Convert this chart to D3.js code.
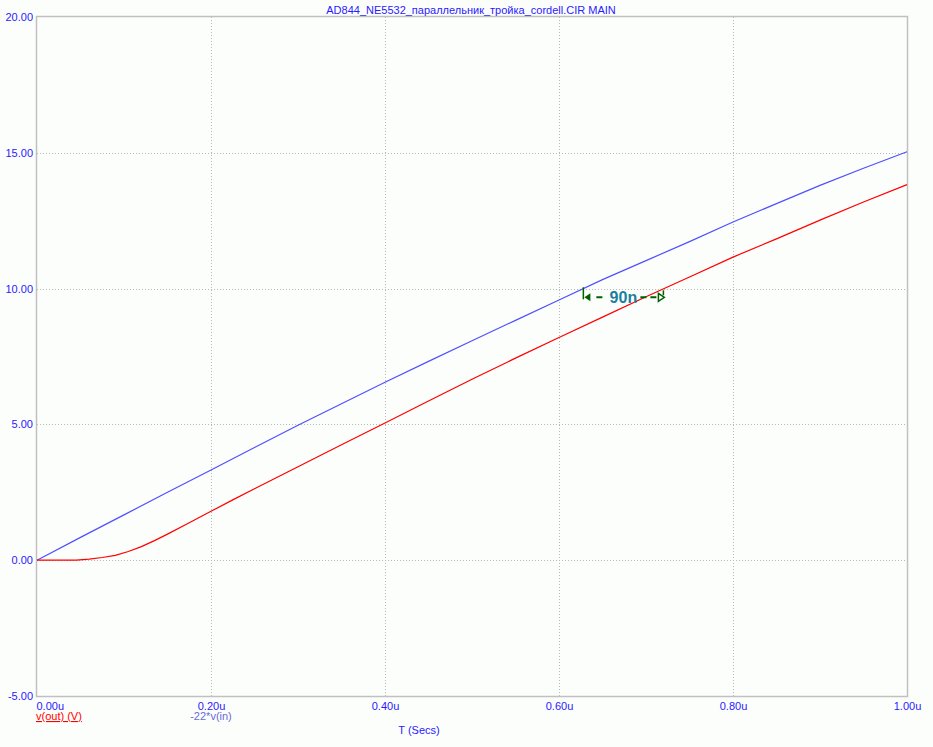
<!DOCTYPE html>
<html><head><meta charset="utf-8">
<script src="https://cdn.jsdelivr.net/npm/d3@7"></script>
<style>
html,body{margin:0;padding:0;background:#fcfefc;}
svg{display:block;font-family:"Liberation Sans",Arial,sans-serif;}
</style></head>
<body>
<script>
const title = "AD844_NE5532_параллельник_тройка_cordell.CIR MAIN";
const xTicks = [0, 0.2, 0.4, 0.6, 0.8, 1.0];
const xTickLabels = ["0.00u", "0.20u", "0.40u", "0.60u", "0.80u", "1.00u"];
const yTicks = [-5, 0, 5, 10, 15, 20];
const yTickLabels = ["-5.00", "0.00", "5.00", "10.00", "15.00", "20.00"];
const xLabel = "T (Secs)";
const seriesNames = ["v(out) (V)", "-22*v(in)"];
// time in microseconds
const tIn = [0, 0.05, 0.1, 0.15, 0.2, 0.25, 0.3, 0.35, 0.4, 0.45, 0.5, 0.55, 0.6, 0.65, 0.7, 0.75, 0.8, 0.85, 0.9, 0.95, 1.0];
const vIn = [0, 0.84, 1.67, 2.5, 3.32, 4.15, 4.97, 5.76, 6.55, 7.32, 8.08, 8.83, 9.58, 10.33, 11.03, 11.73, 12.45, 13.13, 13.8, 14.43, 15.04];
const tOut = [0, 0.045, 0.06, 0.075, 0.09, 0.105, 0.12, 0.135, 0.15, 0.175, 0.2, 0.225, 0.25, 0.3, 0.35, 0.4, 0.45, 0.5, 0.55, 0.6, 0.65, 0.7, 0.75, 0.8, 0.85, 0.9, 0.95, 1.0];
const vOut = [0, 0, 0.04, 0.1, 0.18, 0.32, 0.5, 0.72, 0.96, 1.38, 1.8, 2.22, 2.63, 3.44, 4.25, 5.05, 5.86, 6.66, 7.44, 8.2, 8.95, 9.7, 10.43, 11.16, 11.83, 12.52, 13.19, 13.83];
const annotation = {t0: 0.628, t1: 0.72, v: 9.68, label: "90n"};

const W = 933, H = 747;
const M = {left: 37, top: 17, right: 907, bottom: 696};
const svg = d3.select("body").append("svg").attr("width", W).attr("height", H);
svg.append("rect").attr("width", W).attr("height", H).attr("fill", "#fcfefc");

const x = d3.scaleLinear().domain([0, 1]).range([M.left, M.right]);
const y = d3.scaleLinear().domain([-5, 20]).range([M.bottom, M.top]);

const labelColor = "#2a1aff";
// grid
const g = svg.append("g");
g.selectAll("line.gx").data(xTicks.slice(1, -1)).join("line")
  .attr("x1", d => Math.round(x(d)) + 0.5).attr("x2", d => Math.round(x(d)) + 0.5)
  .attr("y1", M.top).attr("y2", M.bottom)
  .attr("stroke", "#b8b8b8").attr("stroke-dasharray", "1,2");
g.selectAll("line.gy").data(yTicks.slice(1, -1)).join("line")
  .attr("y1", d => Math.round(y(d)) + 0.5).attr("y2", d => Math.round(y(d)) + 0.5)
  .attr("x1", M.left).attr("x2", M.right)
  .attr("stroke", "#b8b8b8").attr("stroke-dasharray", "1,2");

// frame
svg.append("rect").attr("x", M.left - 0.5).attr("y", M.top - 0.5)
  .attr("width", M.right - M.left + 1).attr("height", M.bottom - M.top + 1)
  .attr("fill", "none").attr("stroke", "#c0c0c0").attr("stroke-width", 1.5);

// axes using d3 axis generators (labels only)
const xAxis = d3.axisBottom(x).tickValues(xTicks).tickSize(0).tickPadding(6)
  .tickFormat((d, i) => xTickLabels[i]);
const xa = svg.append("g").attr("transform", `translate(0,${M.bottom})`).call(xAxis);
xa.select(".domain").remove();
xa.selectAll("text").attr("fill", labelColor).attr("font-size", 11)
  .attr("font-family", "Liberation Sans, Arial, sans-serif")
  .attr("text-anchor", (d, i) => i === 0 ? "start" : "middle")
  .attr("dx", (d, i) => i === 0 ? -1 : 0);

const yAxis = d3.axisLeft(y).tickValues(yTicks).tickSize(0).tickPadding(4)
  .tickFormat((d, i) => yTickLabels[i]);
const ya = svg.append("g").attr("transform", `translate(${M.left},0)`).call(yAxis);
ya.select(".domain").remove();
ya.selectAll("text").attr("fill", labelColor).attr("font-size", 11)
  .attr("font-family", "Liberation Sans, Arial, sans-serif");

// title
svg.append("text").attr("x", 471).attr("y", 14).attr("text-anchor", "middle")
  .attr("fill", labelColor).attr("font-size", 11).text(title);

// series
const line = d3.line().x(d => x(d[0])).y(d => y(d[1]));
svg.append("path").datum(tIn.map((t, i) => [t, vIn[i]]))
  .attr("d", line).attr("fill", "none").attr("stroke", "#5050ff").attr("stroke-width", 1.2);
svg.append("path").datum(tOut.map((t, i) => [t, vOut[i]]))
  .attr("d", line).attr("fill", "none").attr("stroke", "#ff0000").attr("stroke-width", 1.2);

// legend / labels
svg.append("text").attr("x", 36).attr("y", 720).attr("fill", "#ff0000").attr("font-size", 11)
  .attr("text-decoration", "underline").text(seriesNames[0]);
svg.append("text").attr("x", x(0.2)).attr("y", 720).attr("text-anchor", "middle")
  .attr("fill", "#6a6ad8").attr("font-size", 11).text(seriesNames[1]);
svg.append("text").attr("x", 419).attr("y", 734).attr("text-anchor", "middle")
  .attr("fill", labelColor).attr("font-size", 11).text(xLabel);

// annotation (dimension marker)
const ax0 = x(annotation.t0), ax1 = x(annotation.t1), ay = y(annotation.v);
const green = "#006000";
const ann = svg.append("g");
ann.append("line").attr("x1", ax0).attr("x2", ax0).attr("y1", y(annotation.v) - 10).attr("y2", ay + 2)
  .attr("stroke", green).attr("stroke-width", 1.5);
ann.append("line").attr("x1", ax1).attr("x2", ax1).attr("y1", ay - 7).attr("y2", ay - 2)
  .attr("stroke", green).attr("stroke-width", 1.5);
// arrowheads
ann.append("path").attr("d", `M${ax0+1},${ay} l6,-4 l0,8 z`).attr("fill", green);
ann.append("path").attr("d", `M${ax1+1},${ay} l-6,-4 l0,8 z`).attr("fill", "none")
  .attr("stroke", green).attr("stroke-width", 1.5);
const midX = (ax0 + ax1) / 2;
ann.append("line").attr("x1", ax0 + 7).attr("x2", midX - 17).attr("y1", ay).attr("y2", ay)
  .attr("stroke", green).attr("stroke-width", 2).attr("stroke-dasharray", "0,6,6,20");
ann.append("line").attr("x1", midX + 17).attr("x2", ax1 - 4).attr("y1", ay).attr("y2", ay)
  .attr("stroke", green).attr("stroke-width", 2).attr("stroke-dasharray", "6,4");
ann.append("text").attr("x", midX).attr("y", ay + 6).attr("text-anchor", "middle")
  .attr("fill", "#1a80a0").attr("font-size", 16).attr("font-weight", "bold").text(annotation.label);
</script>
</body></html>
